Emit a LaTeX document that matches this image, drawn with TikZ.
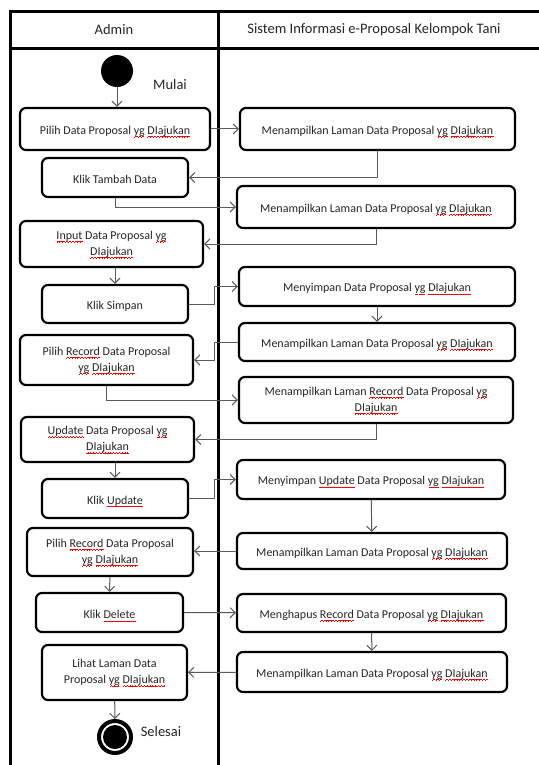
\documentclass[tikz,border=0pt]{standalone}
\usepackage{fontspec}
\setmainfont{Carlito}
\usetikzlibrary{arrows.meta}
% red wavy underline as left by a spell checker, built from small rules
\newcommand\wavepiece{\rule[0pt]{0.7pt}{0.55pt}\rule[0.45pt]{0.7pt}{0.55pt}\rule[0.9pt]{0.7pt}{0.55pt}\rule[0.45pt]{0.7pt}{0.55pt}}
\newcommand\spellwave[1]{\leavevmode\setbox0\hbox{#1}\rlap{\raisebox{-3pt}[0pt][0pt]{\color{red}\hbox to\wd0{\xleaders\hbox{\wavepiece}\hfill}}}\box0\relax}
\newcommand\ygdiajukan{\spellwave{yg} \spellwave{DIajukan}}
\begin{document}
\begin{tikzpicture}[x=1pt,y=-1pt,
  lane/.style={line width=3pt},
  act/.style={draw=black, line width=2.2pt, rounded corners=6pt, align=center,
    inner sep=0pt, text=black!85, font=\fontsize{12}{16}\selectfont,
    execute at begin node={\rule{0pt}{13pt}}},
  flow/.style={draw=black!65, line width=1pt, -{Straight Barb[length=5pt,width=10pt]}},
  lbl/.style={text=black!85, font=\fontsize{14.5}{17}\selectfont}]
\useasboundingbox (0,0) rectangle (538,765);
\fill[white] (0,0) rectangle (538,765);

% swimlanes
\draw[lane] (10,770) -- (10,12) -- (545,12);
\draw[lane] (10,48.5) -- (545,48.5);
\draw[lane] (218.5,12) -- (218.5,770);
\node[lbl] (admin) at (114,30) {Admin};
\node[lbl] (sys) at (374,30) {Sistem Informasi e-Proposal Kelompok Tani};

% start and end
\node[circle, fill=black, minimum size=32pt, inner sep=0pt] (start) at (117,71) {};
\node[lbl] (mulai) at (170,85) {Mulai};
\node[circle, draw=black, line width=4pt, minimum size=32pt, inner sep=0pt] (end) at (115,737) {};
\node[circle, fill=black, minimum size=24pt, inner sep=0pt] (endin) at (end) {};
\node[lbl] (selesai) at (161,732) {Selesai};

% admin actions
\node[act, minimum width=190pt, minimum height=42pt] (L1) at (115,129) {Pilih Data Proposal \ygdiajukan};
\node[act, minimum width=146pt, minimum height=39pt] (L2) at (115,177.5) {Klik Tambah Data};
\node[act, minimum width=183pt, minimum height=46pt] (L3) at (111.5,244) {\spellwave{Input} Data Proposal \spellwave{yg}\\\spellwave{DIajukan}};
\node[act, minimum width=146pt, minimum height=38pt] (L4) at (115,304) {Klik Simpan};
\node[act, minimum width=173pt, minimum height=50pt] (L5) at (106.5,360) {Pilih \spellwave{Record} Data Proposal\\\ygdiajukan};
\node[act, minimum width=173pt, minimum height=45pt] (L6) at (107.5,439.5) {\spellwave{Update} Data Proposal \spellwave{yg}\\\spellwave{DIajukan}};
\node[act, minimum width=146pt, minimum height=39pt] (L7) at (115,498.5) {Klik \spellwave{Update}};
\node[act, minimum width=166pt, minimum height=48pt] (L8) at (110,552) {Pilih \spellwave{Record} Data Proposal\\\ygdiajukan};
\node[act, minimum width=147pt, minimum height=39pt] (L9) at (109.5,612.5) {Klik \spellwave{Delete}};
\node[act, minimum width=145pt, minimum height=55pt] (L10) at (114.5,672.5) {Lihat Laman Data\\Proposal \ygdiajukan};

% system actions
\node[act, minimum width=275pt, minimum height=42pt] (R1) at (377.5,129) {Menampilkan Laman Data Proposal \ygdiajukan};
\node[act, minimum width=278pt, minimum height=42pt] (R2) at (376,207) {Menampilkan Laman Data Proposal \ygdiajukan};
\node[act, minimum width=276pt, minimum height=39pt] (R3) at (377,286.5) {Menyimpan Data Proposal \ygdiajukan};
\node[act, minimum width=276pt, minimum height=38pt] (R4) at (377,342) {Menampilkan Laman Data Proposal \ygdiajukan};
\node[act, minimum width=274pt, minimum height=46pt] (R5) at (376,400) {Menampilkan Laman \spellwave{Record} Data Proposal \spellwave{yg}\\\spellwave{DIajukan}};
\node[act, minimum width=268pt, minimum height=39pt] (R6) at (371,479.5) {Menyimpan \spellwave{Update} Data Proposal \ygdiajukan};
\node[act, minimum width=270pt, minimum height=36pt] (R7) at (372,551) {Menampilkan Laman Data Proposal \ygdiajukan};
\node[act, minimum width=269pt, minimum height=38pt] (R8) at (371.5,613) {Menghapus \spellwave{Record} Data Proposal \ygdiajukan};
\node[act, minimum width=270pt, minimum height=40pt] (R9) at (372,672) {Menampilkan Laman Data Proposal \ygdiajukan};

% control flow
\draw[flow] (start) -- (start |- L1.north);
\draw[flow] (L1) -- (R1);
\draw[flow] (R1.south) |- (L2.east);
\draw[flow] (L2.south) |- (R2.west);
\draw[flow] (R2.south) |- (L3.east);
\draw[flow] (L3.south -| L4.north) -- (L4.north);
\draw[flow] (L4.east) -- ++(25,0) |- (R3.west);
\draw[flow] (R3) -- (R4);
\draw[flow] (R4.west) -- ++(-23,0) |- (L5.east);
\draw[flow] (L5.south) |- (R5.west);
\draw[flow] (R5.south) |- (L6.east);
\draw[flow] (L6.south -| L7.north) -- (L7.north);
\draw[flow] (L7.east) -- ++(25,0) |- (R6.west);
\draw[flow] (R6) -- (R7);
\draw[flow] (R7.west) -- (R7.west -| L8.east);
\draw[flow] (L8) -- (L9);
\draw[flow] (L9) -- (R8);
\draw[flow] (R8) -- (R9);
\draw[flow] (R9) -- (L10);
\draw[flow] (L10) -- (end);
\end{tikzpicture}
\end{document}
